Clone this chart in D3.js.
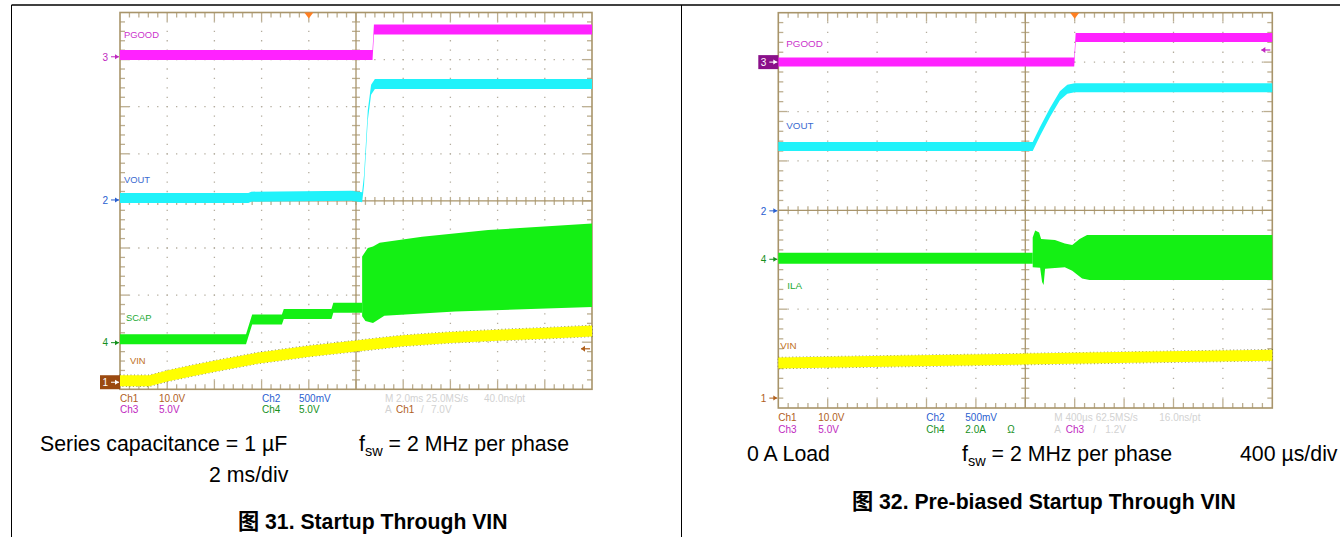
<!DOCTYPE html>
<html><head><meta charset="utf-8">
<script src="https://cdn.jsdelivr.net/npm/d3@7"></script>
<style>
html,body{margin:0;padding:0;background:#fff;}
svg{display:block;}
</style></head>
<body>
<svg id="chart" width="1340" height="537"></svg>
<script>
// ===== DATA (time in divisions 0..10, level in divisions 0..8) =====
// Figure 31: Startup Through VIN (2 ms/div)
const f31_pgood = [[0,7.10],[5.35,7.10],[5.38,7.64],[10,7.64]];
const f31_vout  = [[0,4.06],[2.72,4.06],[2.78,4.09],[4.9,4.11],[5.13,4.08],[5.17,4.44],[5.25,5.82],[5.32,6.36],[5.40,6.48],[10,6.48]];
const f31_scap  = [[0,1.06],[2.67,1.06],[2.80,1.48],[3.43,1.48],[3.47,1.60],[4.48,1.60],[4.52,1.73],[5.13,1.73]];
const f31_scapTop = [[5.13,2.82],[5.25,3.00],[5.36,3.03],[5.5,3.11],[6.4,3.24],[7.8,3.38],[10,3.52]];
const f31_scapBot = [[5.13,1.55],[5.2,1.45],[5.36,1.41],[5.6,1.56],[7.1,1.65],[10,1.75]];
const f31_vin   = [[0,0.18],[0.62,0.18],[1.0,0.28],[1.5,0.39],[2.0,0.49],[2.9,0.66],[4.0,0.81],[5.0,0.92],[6.0,1.03],[7.0,1.10],[8.0,1.15],[9.0,1.19],[10,1.24]];
const f31_markers = [["3",7.06],["2",4.02],["4",0.99],["1",0.15]];
const f31_trigger = 4.0, f31_trigLevel = 0.86;
const f31_labels = [["PGOOD",7.45],["VOUT",4.37],["SCAP",1.46],["VIN",0.54]];
const f31_readout1 = ["Ch1","10.0V","Ch2","500mV","M 2.0ms 25.0MS/s","40.0ns/pt"];
const f31_readout2 = ["Ch3","5.0V","Ch4","5.0V","A","Ch1","/","7.0V"];

// Figure 32: Pre-biased Startup Through VIN (400 µs/div)
const f32_pgood = [[0,7.0],[5.99,7.0],[6.02,7.50],[10,7.50]];
const f32_vout  = [[0,5.29],[5.15,5.29],[5.3,5.60],[5.5,5.98],[5.7,6.32],[5.85,6.45],[6.0,6.48],[10,6.48]];
const f32_ila   = [[0,3.03],[5.15,3.03]];
const f32_ilaTop = [[5.15,3.45],[5.2,3.59],[5.28,3.55],[5.32,3.42],[5.6,3.40],[5.8,3.33],[5.95,3.30],[6.1,3.42],[6.25,3.50],[10,3.50]];
const f32_ilaBot = [[5.15,2.85],[5.3,2.84],[5.34,2.55],[5.37,2.49],[5.4,2.82],[5.8,2.85],[5.95,2.78],[6.15,2.62],[6.3,2.59],[10,2.59]];
const f32_vin   = [[0,0.91],[2.5,0.95],[5,0.99],[7.5,1.03],[10,1.07]];
const f32_markers = [["3",7.0],["2",3.99],["4",3.01],["1",0.2]];
const f32_trigger = 6.0, f32_trigLevel = 7.245;
const f32_labels = [["PGOOD",7.31],["VOUT",5.65],["ILA",2.41],["VIN",1.19]];
const f32_readout1 = ["Ch1","10.0V","Ch2","500mV","M 400\u00B5s 62.5MS/s","16.0ns/pt"];
const f32_readout2 = ["Ch3","5.0V","Ch4","2.0A","\u03A9","A","Ch3","/","1.2V"];

// ===== STYLE =====
const C = {
  pgood:"#ff22ff", vout:"#20f2fa", green:"#14f014", vin:"#ffff00",
  ch1:"#b0601c", ch2:"#2a60d0", ch3:"#c028c0", ch4:"#14901c",
  frame:"#a8946a", tick:"#bcae90", dot:"#b4ad9e", dim:"#d2d2d2"
};
const svg = d3.select("#chart");

// page frame
svg.append("line").attr("x1",11.5).attr("x2",1340).attr("y1",5).attr("y2",5).attr("stroke","#000").attr("stroke-width",1.3);
svg.append("line").attr("x1",11.5).attr("x2",11.5).attr("y1",5).attr("y2",537).attr("stroke","#000").attr("stroke-width",1);
svg.append("line").attr("x1",681.5).attr("x2",681.5).attr("y1",5).attr("y2",537).attr("stroke","#000").attr("stroke-width",1);

function drawScope(cfg){
  const g = svg.append("g");
  const x = d3.scaleLinear().domain([0,10]).range([cfg.x0,cfg.x1]);
  const y = d3.scaleLinear().domain([0,8]).range([cfg.y1,cfg.y0]);
  const dx = (cfg.x1-cfg.x0)/10, dy = (cfg.y1-cfg.y0)/8;
  const grid = g.append("g");
  // dotted graticule
  d3.range(1,10).filter(i=>i!==5).forEach(i=>{
    grid.append("line").attr("x1",x(i)).attr("x2",x(i)).attr("y1",cfg.y0).attr("y2",cfg.y1)
      .attr("stroke",C.dot).attr("stroke-width",1.3)
      .attr("stroke-dasharray",`1.3,${dy/5-1.3}`).attr("stroke-dashoffset",-dy/5+0.65);
  });
  d3.range(1,8).filter(j=>j!==4).forEach(j=>{
    grid.append("line").attr("y1",y(j)).attr("y2",y(j)).attr("x1",cfg.x0).attr("x2",cfg.x1)
      .attr("stroke",C.dot).attr("stroke-width",1.3)
      .attr("stroke-dasharray",`1.3,${dx/5-1.3}`).attr("stroke-dashoffset",-dx/5+0.65);
  });
  // ticks on border and center lines
  const tx = d3.range(1,50).map(k=>k/5), ty = d3.range(1,40).map(k=>k/5);
  tx.forEach(t=>{
    const major = Math.abs(t-Math.round(t))<1e-6;
    const L = major?9:5;
    grid.append("line").attr("x1",x(t)).attr("x2",x(t)).attr("y1",cfg.y0).attr("y2",cfg.y0+L).attr("stroke",C.tick).attr("stroke-width",1.3);
    grid.append("line").attr("x1",x(t)).attr("x2",x(t)).attr("y1",cfg.y1).attr("y2",cfg.y1-L).attr("stroke",C.tick).attr("stroke-width",1.3);
    grid.append("line").attr("x1",x(t)).attr("x2",x(t)).attr("y1",y(4)-4).attr("y2",y(4)+4).attr("stroke",C.tick).attr("stroke-width",1.3);
  });
  ty.forEach(t=>{
    const major = Math.abs(t-Math.round(t))<1e-6;
    const L = major?9:5;
    grid.append("line").attr("y1",y(t)).attr("y2",y(t)).attr("x1",cfg.x0).attr("x2",cfg.x0+L).attr("stroke",C.tick).attr("stroke-width",1.3);
    grid.append("line").attr("y1",y(t)).attr("y2",y(t)).attr("x1",cfg.x1).attr("x2",cfg.x1-L).attr("stroke",C.tick).attr("stroke-width",1.3);
    grid.append("line").attr("y1",y(t)).attr("y2",y(t)).attr("x1",x(5)-4).attr("x2",x(5)+4).attr("stroke",C.tick).attr("stroke-width",1.3);
  });
  grid.append("line").attr("x1",x(5)).attr("x2",x(5)).attr("y1",cfg.y0).attr("y2",cfg.y1).attr("stroke",C.frame).attr("stroke-width",1.3);
  grid.append("line").attr("x1",cfg.x0).attr("x2",cfg.x1).attr("y1",y(4)).attr("y2",y(4)).attr("stroke",C.frame).attr("stroke-width",1.3);
  grid.append("rect").attr("x",cfg.x0).attr("y",cfg.y0).attr("width",cfg.x1-cfg.x0).attr("height",cfg.y1-cfg.y0)
    .attr("fill","none").attr("stroke",C.frame).attr("stroke-width",1.6);

  const band = px => d3.area().x(d=>x(d[0])).y0(d=>y(d[1])+px/2).y1(d=>y(d[1])-px/2);
  const env = (top,bot) => d3.line().x(d=>x(d[0])).y(d=>y(d[1]))(top.concat(bot.slice().reverse()))+"Z";
  const tr = g.append("g");
  cfg.traces.forEach(t=>{
    if(t.edge){
      tr.append("path").attr("d",band(t.w)(t.data)).attr("fill","none").attr("stroke",t.edge)
        .attr("stroke-width",1.4).attr("stroke-dasharray","1,2.5").attr("opacity",0.75);
    }
    if(t.data) tr.append("path").attr("d",band(t.w)(t.data)).attr("fill",t.color);
    if(t.top) tr.append("path").attr("d",env(t.top,t.bot)).attr("fill",t.color);
  });

  // labels inside
  cfg.labels.forEach((l,i)=>{
    g.append("text").attr("x",cfg.x0+cfg.labelDx[i]).attr("y",y(l[1]))
      .attr("font-family","Liberation Sans, Arial, sans-serif").attr("font-size",cfg.labelSize)
      .attr("fill",cfg.labelColors[i]).text(l[0]);
  });

  // channel markers
  cfg.markers.forEach(m=>{
    const yy = y(m[1]);
    const col = cfg.markerColors[m[0]];
    const boxed = cfg.boxed===m[0];
    if(boxed){
      g.append("rect").attr("x",cfg.x0-20).attr("y",yy-7).attr("width",20).attr("height",14).attr("fill",col);
    }
    const fc = boxed?"#fff":col;
    g.append("text").attr("x",cfg.x0-12).attr("y",yy+3.8).attr("text-anchor","end")
      .attr("font-family","Liberation Sans, Arial, sans-serif").attr("font-size",10).attr("fill",fc).text(m[0]);
    g.append("line").attr("x1",cfg.x0-9).attr("x2",cfg.x0-1).attr("y1",yy).attr("y2",yy).attr("stroke",fc).attr("stroke-width",1);
    g.append("path").attr("d",`M${cfg.x0-1},${yy}L${cfg.x0-5},${yy-2.5}L${cfg.x0-5},${yy+2.5}Z`).attr("fill",fc);
  });

  // trigger position marker
  const tx0 = x(cfg.trigger);
  g.append("path").attr("d",`M${tx0-4.5},${cfg.y0}L${tx0+4.5},${cfg.y0}L${tx0},${cfg.y0+6}Z`).attr("fill","#ff7f22");
  // trigger level arrow
  const ly = y(cfg.trigLevel);
  g.append("line").attr("x1",cfg.x1-11).attr("x2",cfg.x1-2).attr("y1",ly).attr("y2",ly).attr("stroke",cfg.trigColor).attr("stroke-width",1.2);
  g.append("path").attr("d",`M${cfg.x1-11},${ly}L${cfg.x1-7},${ly-3}L${cfg.x1-7},${ly+3}Z`).attr("fill",cfg.trigColor);

  // readouts
  const font = "Liberation Sans, Arial, sans-serif";
  cfg.readout.forEach(r=>{
    g.append("text").attr("x",cfg.x0+r[1]).attr("y",cfg.y1+r[2]).attr("font-family",font)
      .attr("font-size",10).attr("fill",r[3]).text(r[0]);
  });
  return {x,y};
}

const fig31 = {
  x0:120, x1:592, y0:12.5, y1:389.3, trigger:f31_trigger, trigLevel:f31_trigLevel, trigColor:C.ch1,
  traces:[
    {data:f31_vin, w:11, color:C.vin, edge:"#5c5a2a"},
    {data:f31_scap, w:10, color:C.green},
    {top:f31_scapTop, bot:f31_scapBot, color:C.green},
    {data:f31_vout, w:10, color:C.vout},
    {data:f31_pgood, w:10, color:C.pgood}
  ],
  labels:f31_labels, labelDx:[4,4,6,10], labelSize:9.4,
  labelColors:["#cc33cc","#3a6ad0","#22aa33","#c0701c"],
  markers:f31_markers, boxed:"1",
  markerColors:{"1":"#9b4a10","2":C.ch2,"3":C.ch3,"4":C.ch4},
  readout:[
    [f31_readout1[0],0,12.7,C.ch1],[f31_readout1[1],39,12.7,C.ch1],
    [f31_readout1[2],142,12.7,C.ch2],[f31_readout1[3],179,12.7,C.ch2],
    [f31_readout1[4],265,12.7,C.dim],[f31_readout1[5],364,12.7,C.dim],
    [f31_readout2[0],0,24,C.ch3],[f31_readout2[1],39,24,C.ch3],
    [f31_readout2[2],142,24,C.ch4],[f31_readout2[3],179,24,C.ch4],
    [f31_readout2[4],265,24,C.dim],[f31_readout2[5],276,24,C.ch1],
    [f31_readout2[6],301,24,C.dim],[f31_readout2[7],311,24,C.dim]
  ]
};
const fig32 = {
  x0:778.3, x1:1272.3, y0:12.7, y1:408, trigger:f32_trigger, trigLevel:f32_trigLevel, trigColor:C.ch3,
  traces:[
    {data:f32_vin, w:11, color:C.vin, edge:"#5c5a2a"},
    {data:f32_ila, w:11, color:C.green},
    {top:f32_ilaTop, bot:f32_ilaBot, color:C.green},
    {data:f32_vout, w:9, color:C.vout},
    {data:f32_pgood, w:9, color:C.pgood}
  ],
  labels:f32_labels, labelDx:[8,8,9,2], labelSize:9.8,
  labelColors:["#cc33cc","#3a6ad0","#22aa33","#c0701c"],
  markers:f32_markers, boxed:"3",
  markerColors:{"1":C.ch1,"2":C.ch2,"3":"#8a108a","4":C.ch4},
  readout:[
    [f32_readout1[0],0,13,C.ch1],[f32_readout1[1],40,13,C.ch1],
    [f32_readout1[2],148,13,C.ch2],[f32_readout1[3],187,13,C.ch2],
    [f32_readout1[4],276,13,C.dim],[f32_readout1[5],381,13,C.dim],
    [f32_readout2[0],0,24.7,C.ch3],[f32_readout2[1],40,24.7,C.ch3],
    [f32_readout2[2],148,24.7,C.ch4],[f32_readout2[3],187,24.7,C.ch4],
    [f32_readout2[4],229,24.7,C.ch4],
    [f32_readout2[5],276,24.7,C.dim],[f32_readout2[6],287.5,24.7,C.ch3],
    [f32_readout2[7],315,24.7,C.dim],[f32_readout2[8],327,24.7,C.dim]
  ]
};
drawScope(fig31);
drawScope(fig32);

// ===== captions =====
const capFont = "Liberation Sans, Arial, 'Noto Sans CJK SC', sans-serif";
function txt(x,y,s,opts={}){
  return svg.append("text").attr("x",x).attr("y",y).attr("font-family",capFont)
    .attr("font-size",opts.size||21.3).attr("font-weight",opts.bold?"bold":"normal")
    .attr("fill","#000").text(s);
}
function fsw(x,y){
  const t = svg.append("text").attr("x",x).attr("y",y).attr("font-family",capFont).attr("font-size",21.3).attr("fill","#000");
  t.append("tspan").text("f");
  t.append("tspan").attr("font-size",14.5).attr("dy",5).text("sw");
  t.append("tspan").attr("dy",-5).text(" = 2 MHz per phase");
}
txt(40,451,"Series capacitance = 1 \u00B5F");
fsw(359,451);
txt(209,481.5,"2 ms/div");
txt(238,529,"\u56FE 31. Startup Through VIN",{bold:true,size:21.2});

txt(747,461,"0 A Load");
fsw(962,461);
txt(1240,461,"400 \u00B5s/div");
txt(852,509,"\u56FE 32. Pre-biased Startup Through VIN",{bold:true,size:21.2});
</script>
</body></html>
